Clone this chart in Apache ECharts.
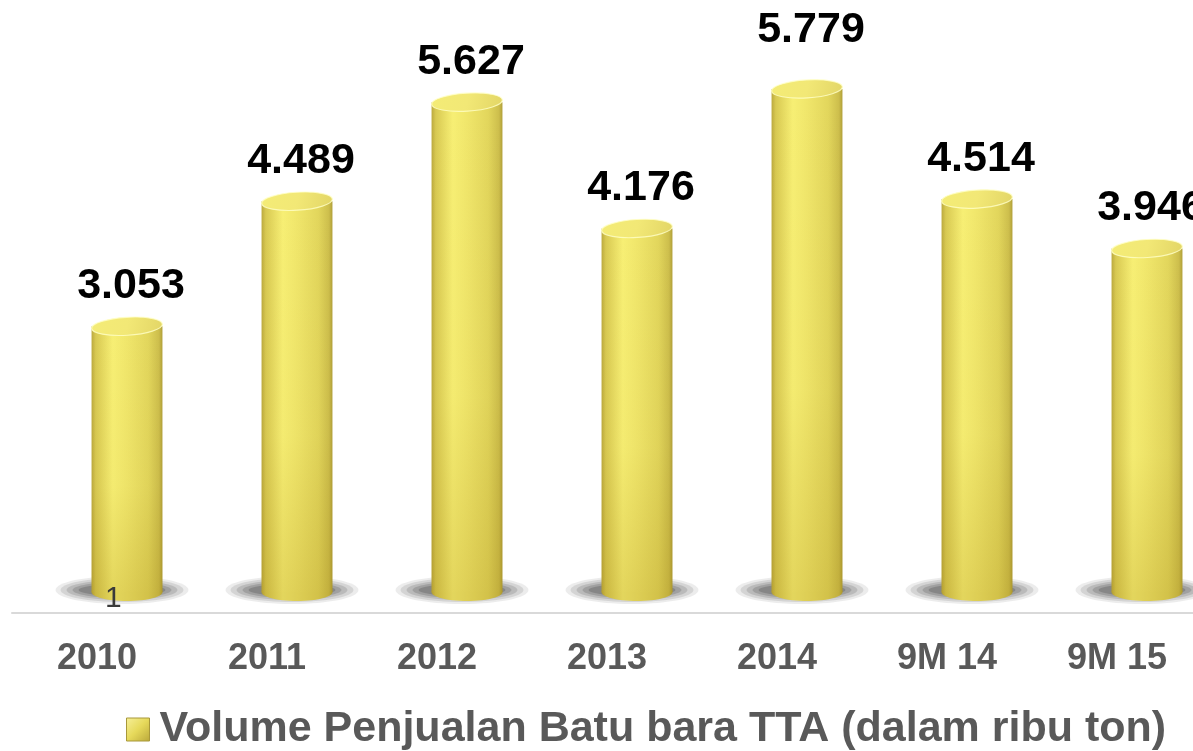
<!DOCTYPE html>
<html>
<head>
<meta charset="utf-8">
<style>
  html, body { margin: 0; padding: 0; background: #ffffff; }
  #chart { width: 1193px; height: 751px; }
</style>
<script src="https://cdn.jsdelivr.net/npm/echarts@6/dist/echarts.min.js"></script>
</head>
<body>
<div id="chart"></div>
<script>
const categories = ['2010', '2011', '2012', '2013', '2014', '9M 14', '9M 15'];
const volumes = [3.053, 4.489, 5.627, 4.176, 5.779, 4.514, 3.946];
const valueLabels = ['3.053', '4.489', '5.627', '4.176', '5.779', '4.514', '3.946'];
const seriesName = 'Volume Penjualan Batu bara TTA (dalam ribu ton)';

const FONT = "'Liberation Sans', Arial, sans-serif";
const chart = echarts.init(document.getElementById('chart'));

// extra lift for labels that sit higher in the reference
const extraLift = { 4: 19 };
// 3D depth offset: cylinders sit to the right of their category slot
const DEPTH_DX = 30;

function bodyGradient() {
  return new echarts.graphic.LinearGradient(0, 0, 1, 0, [
    { offset: 0, color: '#bba93e' },
    { offset: 0.06, color: '#d8c952' },
    { offset: 0.3, color: '#f7ef74' },
    { offset: 0.5, color: '#f0e66b' },
    { offset: 0.8, color: '#e2d65c' },
    { offset: 0.95, color: '#cdbe4c' },
    { offset: 1, color: '#b09f39' }
  ]);
}

function renderItem(params, api) {
  const idx = api.value(0);
  const val = api.value(1);
  const top = api.coord([idx, val]);
  const base = api.coord([idx, 0]);
  const band = api.size([1, 0])[0];
  const w = band * 0.417;
  const rx = w / 2;
  const ry = 9;
  const cx = top[0] + DEPTH_DX;
  const x0 = cx - rx;
  const children = [];
  // soft shadow around the base: stacked translucent ellipses
  const scx = cx - 5, scy = base[1] - 2;
  const rings = [
    { ex: 31, ey: 14, a: 0.10 },
    { ex: 26, ey: 12, a: 0.14 },
    { ex: 20, ey: 10, a: 0.18 },
    { ex: 14, ey: 8, a: 0.22 },
    { ex: 8, ey: 6, a: 0.28 }
  ];
  rings.forEach(function (r, k) {
    children.push({
      type: 'ellipse',
      shape: { cx: scx, cy: scy, rx: rx + r.ex, ry: r.ey },
      style: { fill: 'rgba(70,70,70,' + r.a + ')' },
      z2: 1 + k * 0.01
    });
  });
  // bottom ellipse
  children.push({
    type: 'ellipse',
    shape: { cx: cx, cy: base[1], rx: rx, ry: ry },
    style: { fill: bodyGradient() },
    z2: 2
  });
  children.push({
    type: 'ellipse',
    shape: { cx: cx, cy: base[1], rx: rx, ry: ry },
    style: { fill: 'rgba(150,115,0,0.2)' },
    z2: 3
  });
  // body
  children.push({
    type: 'rect',
    shape: { x: x0, y: top[1], width: w, height: base[1] - top[1] },
    style: { fill: bodyGradient() },
    z2: 4
  });
  // body darkening towards base
  children.push({
    type: 'rect',
    shape: { x: x0, y: top[1], width: w, height: base[1] - top[1] },
    style: {
      fill: new echarts.graphic.LinearGradient(0, 0, 0, 1, [
        { offset: 0, color: 'rgba(150,115,0,0)' },
        { offset: 0.6, color: 'rgba(150,115,0,0.03)' },
        { offset: 1, color: 'rgba(150,115,0,0.2)' }
      ])
    },
    z2: 5
  });
  // top face
  children.push({
    type: 'ellipse',
    shape: { cx: cx, cy: top[1], rx: rx, ry: ry },
    rotation: 0.06,
    originX: cx,
    originY: top[1],
    style: {
      fill: new echarts.graphic.LinearGradient(0, 0, 1, 1, [
        { offset: 0, color: '#f4ec76' },
        { offset: 0.5, color: '#f2e876' },
        { offset: 1, color: '#e2d565' }
      ]),
      stroke: 'rgba(255,255,200,0.8)',
      lineWidth: 1.2
    },
    z2: 6
  });
  // value label
  const lift = 40 + (extraLift[params.dataIndex] || 0);
  children.push({
    type: 'text',
    style: {
      x: cx + 4,
      y: top[1] - lift,
      text: valueLabels[params.dataIndex],
      fill: '#000000',
      font: 'bold 43px ' + FONT,
      align: 'center',
      verticalAlign: 'middle'
    },
    z2: 10
  });
  return { type: 'group', children: children };
}

const option = {
  backgroundColor: '#ffffff',
  animation: false,
  grid: { left: 12, top: 0, width: 1190, height: 613, containLabel: false, outerBoundsMode: 'none' },
  xAxis: {
    type: 'category',
    data: categories,
    boundaryGap: true,
    axisLine: { show: true, onZero: false, lineStyle: { color: '#d9d9d9', width: 2 } },
    axisTick: { show: false },
    axisLabel: {
      show: true,
      interval: 0,
      margin: 28,
      fontSize: 36,
      fontWeight: 'bold',
      fontFamily: FONT,
      color: '#595959',
      hideOverlap: false
    },
    splitLine: { show: false }
  },
  yAxis: {
    type: 'value',
    min: -0.24,
    max: 6.8,
    show: false,
    splitLine: { show: false }
  },
  legend: {
    show: true,
    left: 126,
    top: 708,
    padding: 0,
    itemWidth: 23,
    itemHeight: 23,
    icon: 'rect',
    data: [{
      name: seriesName,
      itemStyle: {
        color: new echarts.graphic.LinearGradient(0, 0, 1, 1, [
          { offset: 0, color: '#f7f09a' },
          { offset: 0.5, color: '#e6d95a' },
          { offset: 1, color: '#b9a73a' }
        ]),
        borderColor: '#a8983a',
        borderWidth: 1
      }
    }],
    textStyle: {
      fontSize: 43,
      fontWeight: 'bold',
      fontFamily: FONT,
      color: '#595959',
      padding: [0, 0, 0, 5]
    }
  },
  graphic: [
    {
      type: 'text',
      left: 105,
      top: 584,
      z: 100,
      style: { text: '1', font: '30px ' + FONT, fill: '#3a3a3a' },
      silent: true
    }
  ],
  series: [{
    name: seriesName,
    type: 'custom',
    renderItem: renderItem,
    encode: { x: 0, y: 1 },
    clip: false,
    data: volumes.map((v, i) => [i, v])
  }]
};

chart.setOption(option);
</script>
</body>
</html>
